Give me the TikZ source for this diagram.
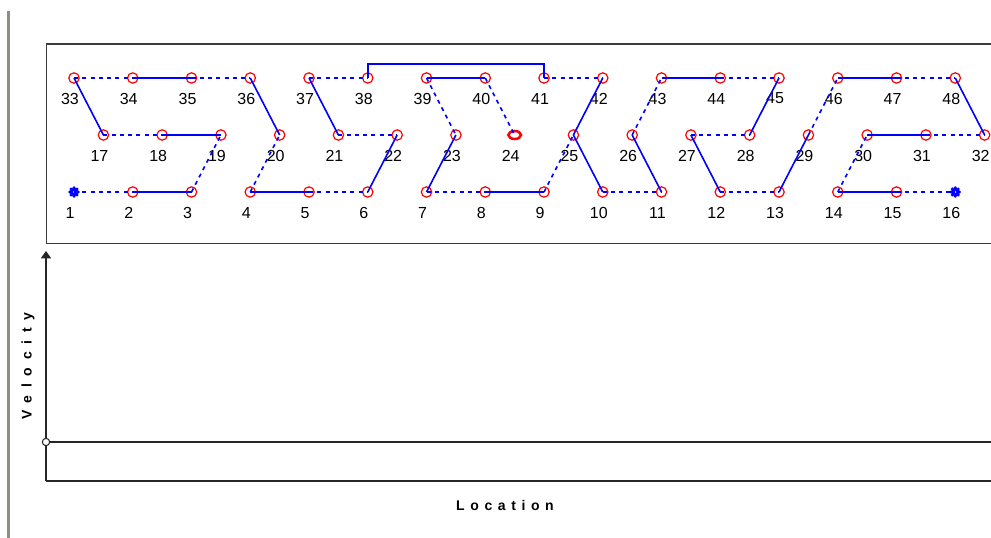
\documentclass[tikz,border=0pt]{standalone}
\usepackage{fontspec}
\setmainfont{Liberation Sans}
\newfontfamily\axisfontA[LetterSpace=40]{Liberation Sans}
\newfontfamily\axisfontB[LetterSpace=55]{Liberation Sans}
\usetikzlibrary{arrows.meta,shapes.geometric}
\definecolor{ptred}{RGB}{255,0,0}
\definecolor{lnblue}{RGB}{0,0,255}
\definecolor{frame}{RGB}{60,60,60}
\definecolor{sidegray}{RGB}{142,142,132}
\tikzset{
  pt/.style={circle,draw=ptred,line width=0.9pt,minimum size=7.8pt,inner sep=0pt},
  hot/.style={ellipse,draw=ptred,line width=1.9pt,minimum width=9.5pt,minimum height=6pt,inner sep=0pt},
  gear/.style={circle,fill=lnblue,minimum size=6.5pt,inner sep=0pt},
  lbl/.style={font=\fontsize{12pt}{14pt}\selectfont,inner sep=0pt,text=black},
  sol/.style={draw=lnblue,line width=1.2pt},
  dsh/.style={draw=lnblue,line width=1.2pt,dash pattern=on 3pt off 3.2pt},
  frm/.style={draw=frame,line width=1.4pt},
  axl/.style={draw=black!85,line width=1.2pt}
}
\begin{document}
\begin{tikzpicture}[x=0.75pt,y=-0.75pt]
\useasboundingbox (0,0) rectangle (991,538);
\clip (0,0) rectangle (991,538);
\fill[white] (0,0) rectangle (991,538);
% side gray line
\draw[sidegray,line width=1.6pt] (8.5,11) -- (8.5,538);
% top panel frame
\draw[frm] (1000,44) -- (46.5,44) -- (46.5,243.5) -- (1000,243.5);
% bottom row 1..16
\foreach \k in {2,...,15} {
  \pgfmathsetmacro\xx{74+58.75*(\k-1)}
  \node[pt] (n\k) at (\xx,192) {};
}
\node[gear] (n1) at (74,192) {};
\node[gear] (n16) at (955.25,192) {};
\foreach \g in {n1,n16} {
  \foreach \a in {0,45,...,315}
    \fill[lnblue] (\g.center) ++(\a:4.2) circle (1.3pt);
  \fill[white] (\g.center) circle (0.7pt);
}
\foreach \k in {1,...,16} {
  \pgfmathsetmacro\xx{74+58.75*(\k-1)}
  \node[lbl] (l\k) at (\xx-4,213) {\k};
}
% middle row 17..32
\foreach \k in {17,...,32} {
  \pgfmathsetmacro\xx{103.4+58.75*(\k-17)}
  \ifnum\k=24
    \node[hot] (n\k) at (\xx,135) {};
  \else
    \node[pt] (n\k) at (\xx,135) {};
  \fi
  \node[lbl] (l\k) at (\xx-4,155.5) {\k};
}
% top row 33..48
\foreach \k in {33,...,48} {
  \pgfmathsetmacro\xx{74+58.75*(\k-33)}
  \node[pt] (n\k) at (\xx,78) {};
  \node[lbl] (l\k) at (\xx-4,98.5) {\k};
}
% solid connectors
\foreach \a/\b in {2/3,4/5,6/22,7/23,8/9,10/25,11/26,12/27,13/29,14/15,18/19,33/17,36/20,37/21,25/42,28/45,30/31,48/32,34/35,39/40,43/44,46/47}
  \draw[sol] (n\a.center) -- (n\b.center);
% dashed connectors
\foreach \a/\b in {1/2,3/19,4/20,5/6,7/8,9/25,10/11,12/13,14/30,15/16,17/18,21/22,39/23,40/24,26/43,27/28,29/46,31/32,33/34,35/36,37/38,41/42,44/45,47/48}
  \draw[dsh] (n\a.center) -- (n\b.center);
% bracket 38 - 41
\draw[sol] (n38.center) -- ++(0,-14) -| (n41.center);
% lower panel
\coordinate (org) at (46,481);
\coordinate (ytip) at (46,251);
\coordinate (zero) at (46,442);
\draw[axl,-{Triangle[width=7.5pt,length=5.5pt]}] (org) -- (ytip);
\draw[axl] (org) -- (1000,481);
\draw[axl] (zero) -- (1000,442);
\node[circle,draw=black!85,fill=white,line width=0.8pt,minimum size=5.5pt,inner sep=0pt] (zc) at (zero) {};
\node[font=\axisfontA\bfseries\fontsize{10.5pt}{12pt}\selectfont,inner sep=0pt] (xlab) at (505,505) {Location};
\node[font=\axisfontB\bfseries\fontsize{10.5pt}{12pt}\selectfont,inner sep=0pt,rotate=90] (ylab) at (28,366) {Velocity};
\end{tikzpicture}
\end{document}
